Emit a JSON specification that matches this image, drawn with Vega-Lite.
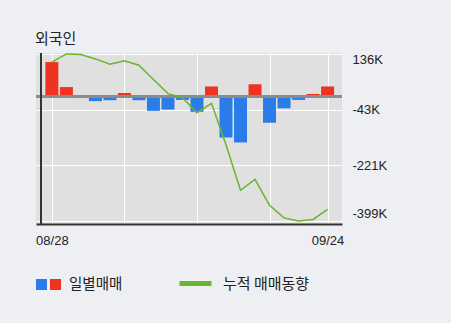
{
  "$schema": "https://vega.github.io/schema/vega-lite/v6.json",
  "width": 306,
  "height": 171,
  "autosize": "none",
  "padding": {"left": 36, "top": 53, "right": 109, "bottom": 99},
  "background": "#eeeff3",
  "config": {
    "view": {"fill": "#e0e0e0", "stroke": null},
    "font": "Noto Sans CJK KR"
  },
  "title": {
    "text": "외국인",
    "anchor": "start",
    "fontSize": 15,
    "fontWeight": "normal",
    "color": "#222222",
    "offset": 4,
    "font": "Noto Sans CJK KR"
  },
  "data": {
    "values": [
      {"i": 0, "date": "08/28", "v": 109, "cum": 109, "side": "매수"},
      {"i": 1, "date": "08/31", "v": 29, "cum": 135, "side": "매수"},
      {"i": 2, "date": "09/01", "v": -5, "cum": 133, "side": "매도"},
      {"i": 3, "date": "09/02", "v": -16, "cum": 119, "side": "매도"},
      {"i": 4, "date": "09/03", "v": -13, "cum": 102, "side": "매도"},
      {"i": 5, "date": "09/04", "v": 10, "cum": 113, "side": "매수"},
      {"i": 6, "date": "09/07", "v": -13, "cum": 99, "side": "매도"},
      {"i": 7, "date": "09/08", "v": -47, "cum": 53, "side": "매도"},
      {"i": 8, "date": "09/09", "v": -43, "cum": 8, "side": "매도"},
      {"i": 9, "date": "09/10", "v": -12, "cum": -5, "side": "매도"},
      {"i": 10, "date": "09/11", "v": -50, "cum": -53, "side": "매도"},
      {"i": 11, "date": "09/14", "v": 31, "cum": -23, "side": "매수"},
      {"i": 12, "date": "09/15", "v": -132, "cum": -155, "side": "매도"},
      {"i": 13, "date": "09/16", "v": -148, "cum": -301, "side": "매도"},
      {"i": 14, "date": "09/17", "v": 38, "cum": -266, "side": "매수"},
      {"i": 15, "date": "09/18", "v": -85, "cum": -349, "side": "매도"},
      {"i": 16, "date": "09/21", "v": -39, "cum": -389, "side": "매도"},
      {"i": 17, "date": "09/22", "v": -12, "cum": -399, "side": "매도"},
      {"i": 18, "date": "09/23", "v": 7, "cum": -394, "side": "매수"},
      {"i": 19, "date": "09/24", "v": 31, "cum": -362, "side": "매수"}
    ]
  },
  "layer": [
    {
      "mark": {"type": "bar", "width": 13},
      "encoding": {
        "x": {
          "field": "i",
          "type": "quantitative",
          "scale": {"domain": [-0.75, 19.65], "nice": false, "zero": false},
          "axis": {
            "values": [0, 5, 10, 15, 19],
            "labelExpr": "datum.value == 0 ? '08/28' : datum.value == 19 ? '09/24' : ''",
            "grid": true,
            "gridColor": "#ffffff",
            "gridWidth": 1,
            "ticks": false,
            "domainColor": "#333333",
            "domainWidth": 2,
            "labelPadding": 10,
            "labelFontSize": 13,
            "labelColor": "#222222",
            "labelFont": "Liberation Sans",
            "labelDx": 3,
            "labelFlush": false,
            "title": null
          }
        },
        "y": {
          "field": "v",
          "type": "quantitative",
          "scale": {"domain": [-408.6, 137.9], "nice": false, "zero": false},
          "axis": {
            "orient": "right",
            "values": [136, -43, -221, -399],
            "labelExpr": "datum.value + 'K'",
            "domain": false,
            "ticks": false,
            "labelPadding": 10,
            "grid": true,
            "gridColor": "#ffffff",
            "gridWidth": 1,
            "labelFontSize": 13,
            "labelColor": "#222222",
            "labelFont": "Liberation Sans",
            "labelFlush": 6,
            "title": null
          }
        },
        "color": {
          "field": "side",
          "type": "nominal",
          "scale": {"domain": ["매도", "매수"], "range": ["#2a7de8", "#ee3420"]},
          "legend": {
            "orient": "none",
            "legendX": 0,
            "legendY": 226,
            "direction": "horizontal",
            "title": "일별매매",
            "titleOrient": "right",
            "titleFontSize": 14.5,
            "titleFontWeight": "normal",
            "titleColor": "#222222",
            "titleFont": "Noto Sans CJK KR",
            "titlePadding": 8,
            "titleBaseline": "middle",
            "padding": 0,
            "symbolType": "square",
            "symbolSize": 121,
            "symbolStrokeWidth": 0,
            "symbolOpacity": 1,
            "labelOffset": 0,
            "columnPadding": 3,
            "labelFontSize": 1,
            "labelExpr": "''"
          }
        }
      }
    },
    {
      "mark": {"type": "rule", "color": "#8c8c8c", "strokeWidth": 2},
      "encoding": {"y": {"datum": 0}}
    },
    {
      "mark": {"type": "rule", "color": "#333333", "strokeWidth": 2},
      "encoding": {"x": {"datum": -0.75}}
    },
    {
      "mark": {"type": "line", "strokeWidth": 1.5},
      "encoding": {
        "x": {"field": "i", "type": "quantitative"},
        "y": {"field": "cum", "type": "quantitative"},
        "stroke": {
          "datum": "누적 매매동향",
          "scale": {"range": ["#6ab42e"]},
          "legend": {
            "orient": "none",
            "legendX": 141,
            "legendY": 212,
            "title": null,
            "padding": 0,
            "symbolType": "stroke",
            "symbolSize": 1024,
            "symbolStrokeWidth": 5,
            "labelOffset": 9,
            "labelFontSize": 15,
            "labelColor": "#222222",
            "labelFont": "Noto Sans CJK KR"
          }
        }
      }
    }
  ]
}
